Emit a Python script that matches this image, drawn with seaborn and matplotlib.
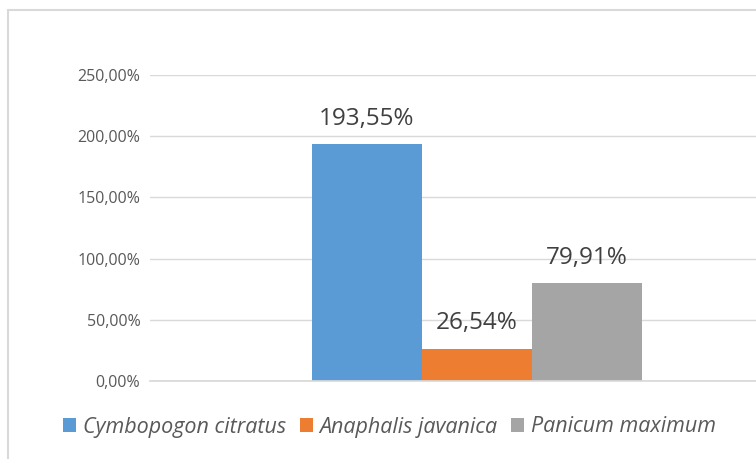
import matplotlib
matplotlib.use("Agg")
import matplotlib.pyplot as plt
from matplotlib.lines import Line2D
from matplotlib.patches import Patch
import pandas as pd
import seaborn as sns

# Datos
species = ["Cymbopogon citratus", "Anaphalis javanica", "Panicum maximum"]
values = [193.55, 26.54, 79.91]
colors = ["#5B9BD5", "#ED7D31", "#A5A5A5"]
y_ticks = [0, 50, 100, 150, 200, 250]

df = pd.DataFrame({"grupo": ["g"] * len(species), "especie": species, "valor": values})

sns.set_theme(style="white")
plt.rcParams["font.family"] = ["Open Sans", "DejaVu Sans"]

fig = plt.figure(figsize=(7.56, 4.59), dpi=100)
ax = fig.add_axes([150 / 756, 78 / 459, 606 / 756, 306 / 459])

sns.barplot(data=df, x="grupo", y="valor", hue="especie", hue_order=species,
            palette=colors, ax=ax, width=0.8, legend=False, saturation=1, linewidth=0)

ax.set_xlim(-0.7927, 0.6764)
ax.set_ylim(0, 250)
ax.set_yticks(y_ticks)
ax.set_yticklabels([f"{v:.2f}".replace(".", ",") + "%" for v in y_ticks],
                   fontsize=11.5, color="#595959")
ax.tick_params(axis="y", length=0, pad=7)
ax.set_xticks([])
ax.set_xlabel("")
ax.set_ylabel("")
ax.grid(axis="y", color="#D9D9D9", linewidth=1)
ax.set_axisbelow(True)
for s in ["left", "right", "top"]:
    ax.spines[s].set_visible(False)
ax.spines["bottom"].set_color("#D9D9D9")

# Etiquetas de valores
for bar, val in zip(ax.patches, values):
    ax.text(bar.get_x() + bar.get_width() / 2, bar.get_height() + 11,
            f"{val:.2f}".replace(".", ",") + "%",
            ha="center", va="bottom", fontsize=17.5, color="#404040")

# Leyenda
handles = [Patch(facecolor=c, edgecolor="none") for c in colors]
fig.legend(handles, species, loc="center left", bbox_to_anchor=(44 / 756, 1 - 427 / 459),
           ncol=3, frameon=False, prop={"style": "italic", "size": 15.5},
           handlelength=0.6, handleheight=0.6, handletextpad=0.3, columnspacing=0.65,
           labelcolor="#595959")

# Borde del grafico
fig.add_artist(Line2D([8 / 756, 8 / 756], [0, 1 - 10 / 459], transform=fig.transFigure,
                      color="#D9D9D9", linewidth=1.5))
fig.add_artist(Line2D([8 / 756, 1], [1 - 10 / 459, 1 - 10 / 459], transform=fig.transFigure,
                      color="#D9D9D9", linewidth=1.5))

fig.savefig("out.png", dpi=100)
